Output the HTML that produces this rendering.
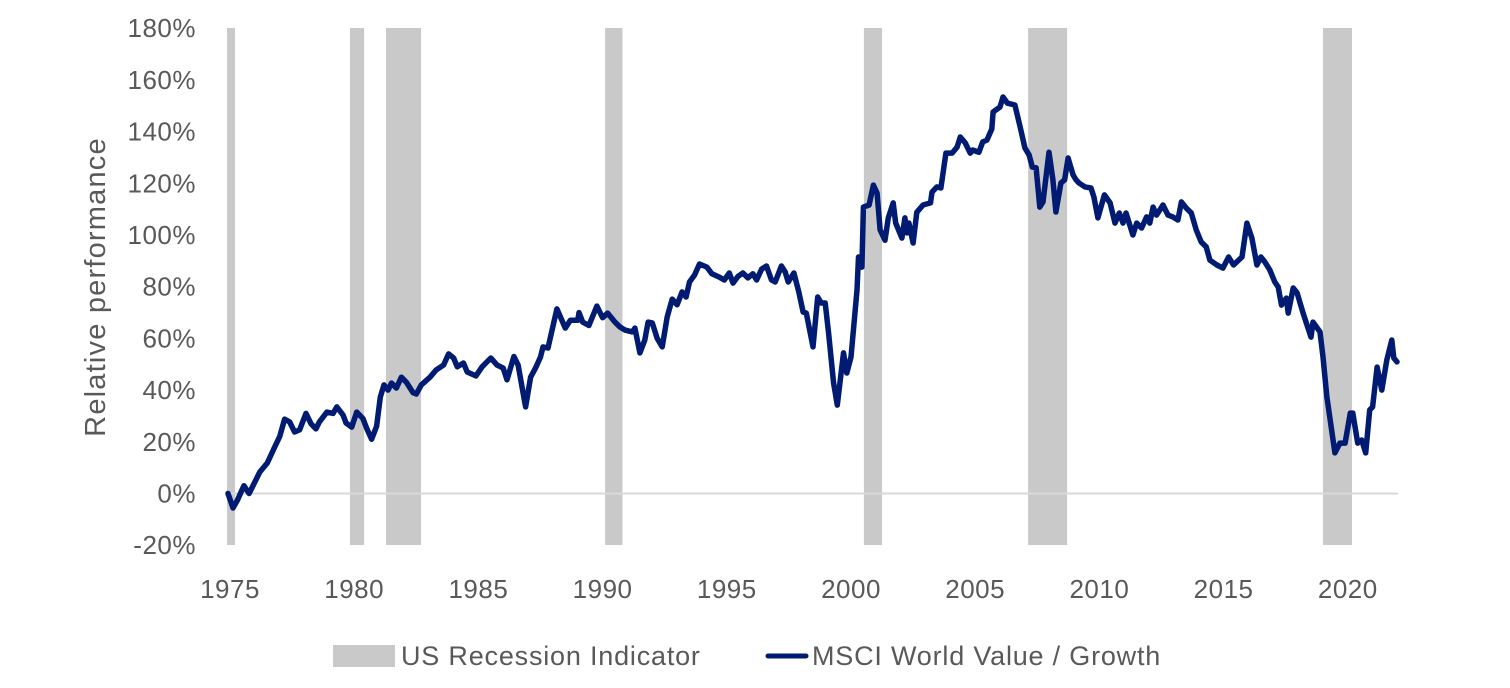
<!DOCTYPE html>
<html><head><meta charset="utf-8"><style>
body{margin:0;background:#fff;}
svg{display:block;font-family:"Liberation Sans",sans-serif;}
</style></head><body>
<svg id="chart" width="1510" height="688">
<g id="bands"></g>
<line x1="228" y1="493.5" x2="1398" y2="493.5" stroke="#d9d9d9" stroke-width="2"/>
<g id="yticks"></g>
<g id="xticks"></g>
<path id="series" fill="none" stroke="#001b71" stroke-width="5.5" stroke-linejoin="round" stroke-linecap="round"/>
<text x="0" y="0" transform="translate(105,287) rotate(-90)" text-anchor="middle" font-size="29" letter-spacing="1.2" fill="#595959">Relative performance</text>
<g>
<rect x="333" y="645" width="62" height="22" fill="#c9c9c9"/>
<text x="401" y="665" font-size="27" letter-spacing="0.8" fill="#595959">US Recession Indicator</text>
<line x1="768" y1="656" x2="806" y2="656" stroke="#001b71" stroke-width="5" stroke-linecap="round"/>
<text x="812" y="665" font-size="27" letter-spacing="0.8" fill="#595959">MSCI World Value / Growth</text>
</g>
</svg>
<script>
const bandStarts=[1974.88,1979.83,1981.28,1990.1,2000.52,2007.13,2019.0];
const bandEnds=[1975.2,1980.4,1982.69,1990.8,2001.25,2008.7,2020.17];
const yTicks=[-20,0,20,40,60,80,100,120,140,160,180];
const xTicks=[1975,1980,1985,1990,1995,2000,2005,2010,2015,2020];
const years=[1974.92,1975.12,1975.3,1975.56,1975.77,1976.2,1976.5,1976.8,1977.0,1977.2,1977.4,1977.6,1977.8,1978.06,1978.26,1978.46,1978.6,1978.9,1979.15,1979.3,1979.55,1979.67,1979.9,1980.1,1980.35,1980.5,1980.7,1980.9,1981.05,1981.2,1981.36,1981.5,1981.7,1981.9,1982.1,1982.37,1982.5,1982.7,1983.05,1983.3,1983.6,1983.8,1984.0,1984.15,1984.4,1984.55,1984.9,1985.15,1985.5,1985.75,1986.0,1986.15,1986.43,1986.6,1986.9,1987.1,1987.3,1987.5,1987.6,1987.8,1988.16,1988.5,1988.7,1989.0,1989.05,1989.2,1989.45,1989.77,1990.0,1990.2,1990.5,1990.7,1990.9,1991.2,1991.3,1991.5,1991.7,1991.83,1992.0,1992.2,1992.4,1992.6,1992.8,1993.0,1993.2,1993.36,1993.5,1993.7,1993.9,1994.2,1994.4,1994.7,1994.9,1995.1,1995.25,1995.45,1995.65,1995.85,1996.05,1996.2,1996.4,1996.6,1996.8,1996.95,1997.2,1997.35,1997.47,1997.7,1997.9,1998.07,1998.2,1998.47,1998.66,1998.8,1998.96,1999.1,1999.3,1999.45,1999.7,1999.83,2000.0,2000.24,2000.3,2000.44,2000.5,2000.73,2000.9,2001.05,2001.17,2001.37,2001.5,2001.7,2001.8,2002.05,2002.17,2002.25,2002.33,2002.5,2002.65,2002.9,2003.2,2003.26,2003.46,2003.62,2003.82,2004.07,2004.27,2004.4,2004.6,2004.8,2004.9,2005.15,2005.3,2005.47,2005.67,2005.72,2006.0,2006.12,2006.3,2006.6,2006.8,2007.0,2007.17,2007.3,2007.45,2007.6,2007.73,2007.97,2008.13,2008.25,2008.45,2008.6,2008.74,2008.94,2009.06,2009.18,2009.42,2009.66,2009.78,2009.94,2010.2,2010.43,2010.63,2010.8,2010.95,2011.07,2011.35,2011.5,2011.7,2011.9,2012.03,2012.16,2012.3,2012.56,2012.76,2012.96,2013.16,2013.3,2013.5,2013.7,2013.9,2014.1,2014.3,2014.45,2014.73,2014.97,2015.2,2015.4,2015.74,2015.94,2016.14,2016.34,2016.5,2016.66,2016.86,2017.06,2017.2,2017.33,2017.53,2017.6,2017.8,2017.96,2018.2,2018.52,2018.6,2018.88,2019.0,2019.16,2019.48,2019.68,2019.89,2020.1,2020.2,2020.4,2020.56,2020.72,2020.88,2021.0,2021.18,2021.37,2021.57,2021.77,2021.85,2021.98];
const values=[0,-5.6,-2.5,3,0,8.3,11.8,18,22,28.8,27.7,23.8,24.6,31,27,25,27.7,31.5,31,33.5,30.4,27.3,25.7,31.5,29,25.3,21,26,37.3,42,40,42.7,40.8,45,43,39,38.5,42,45,47.8,49.7,54,52.4,49,50.5,47,45.5,49,52.4,49.7,48.5,44,53,49.7,33.5,45,48.5,52.8,56.7,56.3,71.4,64,67,67,70,66.3,65,72.5,68,69.8,66.3,64.4,63.2,62.5,64,54.4,59.4,66.3,66,60,56.7,68.3,75.2,73,78,76,81.8,84.5,88.8,87.6,85,83.7,82.6,85.3,81.4,84,85.3,83.4,85,82.6,86.8,88,82.6,81.8,88,85.7,81.8,85.3,78,70.2,69.8,56.7,76,73.7,73.7,62,42.7,34.2,54.4,46.6,52.8,78.7,91.5,87.6,110.8,111.6,119.3,116.2,102,98,106.6,112.4,104.6,98.8,106.6,100.8,104.6,96.9,108.8,111.6,112.4,116.6,118.6,118.2,131.7,131.7,134,137.9,135.6,131.7,132.9,132,136,136.7,141,147.6,149.5,153.4,151,150.3,142.2,133.7,131,126.3,126,110.8,112.8,132,121.3,108.9,120.1,121.3,129.8,123.2,121.3,120.1,118.6,118.2,114.7,106.6,115.5,112.4,104.6,108.5,104.6,108.5,100,104.6,102.7,107,104.6,110.8,107.7,111.6,107.7,107,105.8,112.8,110.4,108.5,101.9,97.3,95.4,90.3,88.4,87.2,91.5,88.4,91.5,104.6,98.8,88.4,91.5,89.6,86.5,81.8,79.9,72.9,75.6,69.8,79.5,77.6,69.8,60.5,66.3,62.5,52.8,37.3,15.7,19.5,19.5,31.1,31.1,19.5,20.7,15.7,32.3,33.5,48.9,40,51.6,59.4,52.4,50.9];
const NS='http://www.w3.org/2000/svg';
const xS=y=>230+(y-1975)*24.84;
const yS=v=>493.5-v*2.585;
const bg=document.getElementById('bands');
bandStarts.forEach((s,i)=>{
  const r=document.createElementNS(NS,'rect');
  r.setAttribute('x',xS(s));r.setAttribute('width',xS(bandEnds[i])-xS(s));
  r.setAttribute('y',28);r.setAttribute('height',517);r.setAttribute('fill','#c9c9c9');
  
  
  bg.appendChild(r);
});
const yg=document.getElementById('yticks');
yTicks.forEach(v=>{
  const t=document.createElementNS(NS,'text');
  t.setAttribute('x',196);t.setAttribute('y',yS(v)+9);t.setAttribute('text-anchor','end');
  t.setAttribute('font-size','26');t.setAttribute('letter-spacing','0.5');t.setAttribute('fill','#595959');t.textContent=v+'%';
  
  
  yg.appendChild(t);
});
const xg=document.getElementById('xticks');
xTicks.forEach(v=>{
  const t=document.createElementNS(NS,'text');
  t.setAttribute('x',xS(v));t.setAttribute('y',598);t.setAttribute('text-anchor','middle');
  t.setAttribute('font-size','26');t.setAttribute('letter-spacing','0.5');t.setAttribute('fill','#595959');t.textContent=v;
  
  
  xg.appendChild(t);
});
document.getElementById('series').setAttribute('d',years.map((y,i)=>(i?'L':'M')+xS(y).toFixed(1)+','+yS(values[i]).toFixed(1)).join(''));
</script>
</body></html>
